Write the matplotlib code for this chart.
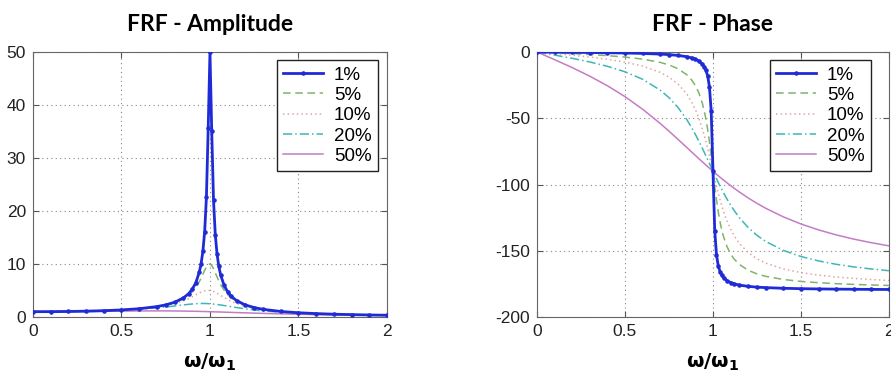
import matplotlib.pyplot as plt

# frequency ratio w/w1 (sample points)
ratio = [0, 0.1, 0.2, 0.3, 0.4, 0.5, 0.6, 0.7, 0.75, 0.8, 0.85, 0.88, 0.9, 0.92,
         0.94, 0.95, 0.96, 0.97, 0.98, 0.99, 1.0, 1.01, 1.02, 1.03, 1.04, 1.05,
         1.06, 1.08, 1.1, 1.12, 1.15, 1.2, 1.25, 1.3, 1.4, 1.5, 1.6, 1.7, 1.8,
         1.9, 2.0]

labels = ['1%', '5%', '10%', '20%', '50%']

amp_1 = [1.0, 1.01, 1.042, 1.099, 1.19, 1.333, 1.562, 1.96, 2.284, 2.775, 3.597,
         4.419, 5.24, 6.464, 8.481, 10.07, 12.39, 16.08, 22.63, 35.62, 50.0, 35.1,
         22.1, 15.55, 11.88, 9.558, 7.974, 5.96, 4.736, 3.916, 3.093, 2.269, 1.776,
         1.448, 1.041, 0.8, 0.641, 0.529, 0.446, 0.383, 0.333]
amp_5 = [1.0, 1.01, 1.041, 1.098, 1.189, 1.33, 1.556, 1.943, 2.253, 2.712, 3.446,
         4.13, 4.757, 5.585, 6.684, 7.346, 8.068, 8.804, 9.461, 9.903, 10.0, 9.711,
         9.115, 8.357, 7.565, 6.815, 6.141, 5.041, 4.218, 3.598, 2.921, 2.193, 1.735,
         1.424, 1.031, 0.794, 0.638, 0.527, 0.445, 0.382, 0.333]
amp_10 = [1.0, 1.01, 1.041, 1.097, 1.185, 1.322, 1.536, 1.891, 2.162, 2.538, 3.073,
          3.495, 3.821, 4.172, 4.522, 4.683, 4.822, 4.931, 5.001, 5.025, 5.0, 4.926,
          4.809, 4.655, 4.476, 4.279, 4.075, 3.668, 3.288, 2.95, 2.525, 1.995, 1.625,
          1.356, 1.0, 0.778, 0.628, 0.521, 0.441, 0.379, 0.33]
amp_20 = [1.0, 1.009, 1.038, 1.09, 1.17, 1.288, 1.463, 1.719, 1.885, 2.076, 2.279,
          2.392, 2.457, 2.508, 2.541, 2.549, 2.552, 2.548, 2.538, 2.522, 2.5, 2.472,
          2.439, 2.401, 2.359, 2.313, 2.264, 2.16, 2.051, 1.941, 1.78, 1.536, 1.329,
          1.157, 0.9, 0.721, 0.593, 0.498, 0.425, 0.368, 0.322]
amp_50 = [1.0, 1.005, 1.02, 1.044, 1.075, 1.109, 1.14, 1.155, 1.152, 1.14, 1.118,
          1.101, 1.087, 1.072, 1.056, 1.047, 1.038, 1.029, 1.02, 1.01, 1.0, 0.99,
          0.98, 0.969, 0.959, 0.948, 0.937, 0.915, 0.893, 0.871, 0.837, 0.782, 0.73,
          0.68, 0.589, 0.512, 0.448, 0.393, 0.348, 0.31, 0.277]

phase_1 = [0, -0.12, -0.24, -0.38, -0.55, -0.76, -1.07, -1.57, -1.96, -2.55, -3.51,
           -4.46, -5.41, -6.83, -9.18, -11.03, -13.76, -18.17, -26.33, -44.86, -90.0,
           -134.86, -153.21, -161.31, -165.7, -168.42, -170.27, -172.6, -174.02,
           -174.97, -175.92, -176.88, -177.46, -177.84, -178.33, -178.63, -178.82,
           -178.97, -179.08, -179.17, -179.24]
phase_5 = [0, -0.58, -1.19, -1.89, -2.73, -3.81, -5.36, -7.82, -9.73, -12.53, -17.03,
           -21.31, -25.35, -30.92, -38.92, -44.26, -50.76, -58.64, -68.0, -78.64, -90.0,
           -101.26, -111.6, -120.59, -128.12, -134.31, -139.39, -147.0, -152.35,
           -156.24, -160.37, -164.74, -167.47, -169.33, -171.7, -173.16, -174.14,
           -174.86, -175.41, -175.84, -176.19]
phase_10 = [0, -1.16, -2.39, -3.77, -5.44, -7.6, -10.62, -15.35, -18.92, -23.96, -31.49,
            -37.96, -43.45, -50.14, -58.24, -62.83, -67.79, -73.06, -78.58, -84.26, -90.0,
            -95.68, -101.2, -106.47, -111.42, -116.02, -120.24, -127.61, -133.67,
            -138.63, -144.5, -151.39, -156.04, -159.35, -163.74, -166.5, -168.41,
            -169.8, -170.87, -171.72, -172.41]
phase_20 = [0, -2.31, -4.76, -7.51, -10.78, -14.93, -20.56, -28.77, -34.44, -41.63, -50.78,
            -57.34, -62.18, -67.35, -72.8, -75.61, -78.46, -81.34, -84.23, -87.12, -90.0,
            -92.85, -95.65, -98.41, -101.1, -103.71, -106.25, -111.06, -115.51,
            -119.59, -125.03, -132.51, -138.37, -143.0, -149.74, -154.36, -157.69,
            -160.21, -162.18, -163.77, -165.07]
phase_50 = [0, -5.77, -11.77, -18.25, -25.46, -33.69, -43.15, -53.93, -59.74, -65.77, -71.92,
            -75.62, -78.08, -80.52, -82.94, -84.14, -85.33, -86.51, -87.69, -88.85, -90.0,
            -91.14, -92.27, -93.38, -94.49, -95.58, -96.65, -98.76, -100.81,
            -102.8, -105.66, -110.14, -114.23, -117.96, -124.44, -129.81, -134.27,
            -138.03, -141.21, -143.94, -146.31]

amps = [amp_1, amp_5, amp_10, amp_20, amp_50]
phases = [phase_1, phase_5, phase_10, phase_20, phase_50]

colors = ['#1f2bd6', '#7fb46c', '#e2a4a4', '#3fb6b6', '#c47cc4']
styles = ['-', (0, (5, 3)), (0, (1, 2)), (0, (6, 2, 1, 2)), '-']

plt.rcParams['font.family'] = ['Liberation Sans', 'DejaVu Sans']
plt.rcParams['axes.unicode_minus'] = False

fig = plt.figure(figsize=(8.91, 3.78), dpi=100)
ax1 = fig.add_axes([0.037, 0.1614, 0.3973, 0.701])
ax2 = fig.add_axes([0.6027, 0.1614, 0.3950, 0.701])


def draw(ax, series, ylim, yticks, title, legend_x):
    for i, vals in enumerate(series):
        if i == 0:
            ax.plot(ratio, vals, color=colors[i], lw=2.0, marker='.', ms=4.5,
                    label=labels[i], zorder=5)
        else:
            ax.plot(ratio, vals, color=colors[i], ls=styles[i], lw=1.1,
                    label=labels[i])
    ax.set_xlim(0, 2)
    ax.set_ylim(*ylim)
    ax.set_xticks([0, 0.5, 1, 1.5, 2])
    ax.set_xticklabels(['0', '0.5', '1', '1.5', '2'])
    ax.set_yticks(yticks)
    ax.grid(True, ls=(0, (1, 3)), color='#888888', lw=0.8)
    ax.tick_params(direction='in', top=True, right=True, length=4,
                   labelsize=12.5, colors='#555555', labelcolor='#222222', pad=5)
    for s in ax.spines.values():
        s.set_color('#666666')
    ax.set_title(title, family=['Lato', 'DejaVu Sans'], fontweight='bold',
                 fontsize=16.5, pad=15)
    ax.set_xlabel(r'$\mathbf{\omega/\omega_1}$', fontsize=14.5, labelpad=9)
    leg = ax.legend(loc='upper right', bbox_to_anchor=(legend_x, 0.97),
                    borderaxespad=0, fontsize=13.5, fancybox=False,
                    framealpha=1, edgecolor='#222222', handlelength=2.1,
                    handletextpad=0.6, labelspacing=0.17, borderpad=0.35)
    leg.get_frame().set_linewidth(1.0)


draw(ax1, amps, (0, 50), [0, 10, 20, 30, 40, 50], 'FRF - Amplitude', 0.975)
draw(ax2, phases, (-200, 0), [-200, -150, -100, -50, 0], 'FRF - Phase', 0.949)

fig.savefig('out.png', dpi=100)
